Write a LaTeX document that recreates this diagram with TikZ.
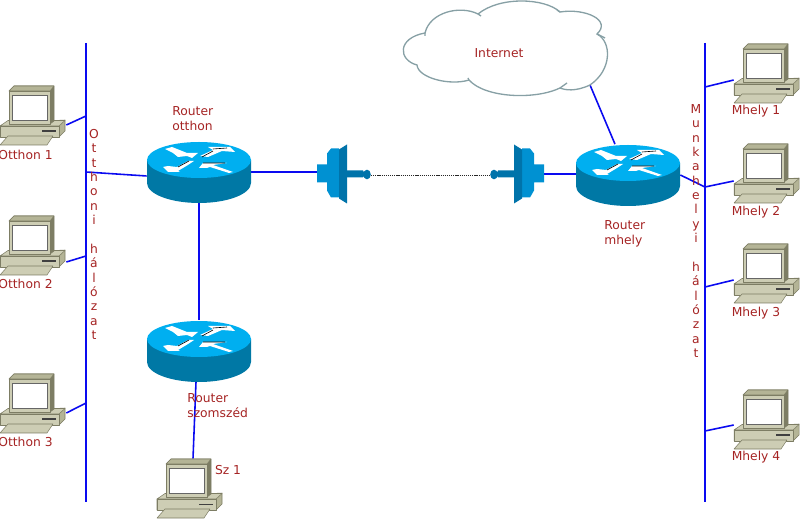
\documentclass[tikz,border=0pt]{standalone}
\usepackage{fontspec}
\setmainfont{DejaVu Sans}
\usetikzlibrary{calc}
\definecolor{netblue}{RGB}{10,10,240}
\definecolor{labelred}{RGB}{165,35,35}
\definecolor{pclight}{RGB}{205,205,180}
\definecolor{pcmid}{RGB}{180,180,150}
\definecolor{pcdark}{RGB}{125,125,100}
\definecolor{routertop}{RGB}{0,175,240}
\definecolor{routerside}{RGB}{0,120,165}
\definecolor{dishlight}{RGB}{0,145,210}
\definecolor{dishdark}{RGB}{0,115,170}
\definecolor{cloudline}{RGB}{135,160,165}
\tikzset{
  x=0.02cm,y=-0.02cm,
  netline/.style={draw=netblue,line width=0.9pt},
  netlabel/.style={text=labelred,font=\fontsize{7}{8.5}\selectfont,inner sep=0pt,align=left},
  busletters/.style={text=labelred,font=\fontsize{7}{8.18}\selectfont,inner sep=0pt,align=center},
  pcbox/.style={minimum width=1.32cm,minimum height=1.2cm,inner sep=0pt},
  routerbox/.style={minimum width=2.08cm,minimum height=1.22cm,inner sep=0pt},
  dishbox/.style={minimum width=0.2cm,minimum height=0.34cm,inner sep=0pt},
  pcpart/.style={draw=pcdark,line width=0.3pt,line join=round},
  pcico/.pic={
    % base
    \path[pcpart,fill=pcmid] (-27,37) -- (-33,40) -- (-33,51) -- (26,51) -- (32,45) -- (32,34) -- cycle;
    \path[pcpart,fill=pclight] (-33,40) -- (-25,34.5) -- (32,34.5) -- (26,40) -- cycle;
    \path[pcpart,fill=pclight] (-33,40) rectangle (26,51);
    \fill[black!75] (9,44.5) rectangle (23,46);
    % keyboard
    \path[pcpart,fill=pclight] (-25,50) -- (20,50) -- (14,59) -- (-33,59) -- cycle;
    % monitor
    \path[pcpart,fill=pcdark] (-24,5) -- (-19,0) -- (21,0) -- (21,35) -- (17,38) -- (17,5) -- cycle;
    \path[pcpart,fill=pcmid] (-24,5) -- (-19,0) -- (21,0) -- (17,5) -- cycle;
    \path[pcpart,fill=pclight] (-24,5) rectangle (17,38);
    \path[draw=black!60,line width=0.3pt,fill=white] (-20.5,9) rectangle (14,34.5);
  },
  routerico/.pic={
    \fill[routerside] (-52,-12) -- (-52,11) arc[start angle=180,end angle=0,x radius=52,y radius=20] -- (52,-12) -- cycle;
    \fill[routertop] (0,-12) ellipse[x radius=52,y radius=18];
    % arrows
    \fill[white] (-34,-23) -- (-27,-25) -- (-12,-19) -- (-1,-19) -- (-7,-14) -- (-12,-16) -- (-21,-15) -- (-26,-19) -- cycle;
    \fill[white] (1,-16) -- (14,-22) -- (9,-25) -- (31,-25) -- (36,-20) -- (23,-21) -- (9,-15) -- cycle;
    \fill[white] (-36,-5) -- (-31,-6) -- (-22,-5) -- (-11,-11) -- (-5,-11) -- (-11,-7) -- (-21,-1) -- (-19,0) -- (-31,0) -- cycle;
    \fill[white] (0,-4) -- (4,-9) -- (28,-9) -- (14,-7) -- (34,0) -- (30,1) -- (11,-5) -- (8,-4) -- cycle;
    \draw[black,line width=0.35pt] (3,-15) -- (14,-21) (14,-23) -- (28,-24) (-21,-5) -- (-10,-11) (4,-9) -- (26,-9);
  },
  dishico/.pic={
    \fill[dishlight] (-51,-9) -- (-41,-9) -- (-41,-20) -- (-37,-25) -- (-29,-25) -- (-29,24) -- (-37,24) -- (-41,17) -- (-41,9) -- (-51,9) -- cycle;
    \fill[dishdark] (-29,-24) -- (-21,-29) -- (-21,30) -- (-29,25) -- cycle;
    \fill[dishdark] (-21,-3) -- (-5,-3) -- (-3,1) -- (-5,4) -- (-21,4) -- cycle;
    \fill[dishdark] (-1,1) ellipse[x radius=3.8,y radius=4.8];
  },
}
\begin{document}
\begin{tikzpicture}
  \useasboundingbox (0,0) rectangle (800,519);
  % hosts
  \node[pcbox] (otthona) at (33,116) {};
  \node[pcbox] (otthonb) at (33,246) {};
  \node[pcbox] (otthonc) at (33,404) {};
  \node[pcbox] (szomszed) at (190,489) {};
  \node[pcbox] (mhelya) at (767,74) {};
  \node[pcbox] (mhelyb) at (767,174) {};
  \node[pcbox] (mhelyc) at (767,274) {};
  \node[pcbox] (mhelyd) at (767,420) {};
  % routers
  \node[routerbox] (routerotthon) at (199,172) {};
  \node[routerbox] (routerszomszed) at (199,351) {};
  \node[routerbox] (routermhely) at (628,175) {};
  % antennas
  \node[dishbox] (dishleft) at (322,172) {};
  \node[dishbox] (dishright) at (539,174) {};
  \coordinate (beamleft) at (371,175.7);
  \coordinate (beamright) at (490,175.7);
  % buses
  \coordinate (busotthontop) at (86,43);
  \coordinate (busotthonbot) at (86,502);
  \coordinate (busmhelytop) at (705,43);
  \coordinate (busmhelybot) at (705,502);
  \coordinate (tapoa) at (86,116);
  \coordinate (tapob) at (86,256);
  \coordinate (tapoc) at (86,403);
  \coordinate (taprouter) at (86,172);
  \coordinate (tapma) at (705,87);
  \coordinate (tapmb) at (705,187);
  \coordinate (tapmc) at (705,287);
  \coordinate (tapmd) at (705,431);
  \coordinate (cloudtail) at (590,85);
  % connectors
  \draw[netline] (busotthontop) -- (busotthonbot);
  \draw[netline] (busmhelytop) -- (busmhelybot);
  \draw[netline] ($(otthona.east)+(0,9)$) -- (tapoa);
  \draw[netline] ($(otthonb.east)+(0,16)$) -- (tapob);
  \draw[netline] ($(otthonc.east)+(0,9)$) -- (tapoc);
  \draw[netline] ($(routerotthon.west)+(0,4)$) -- (taprouter);
  \draw[netline] (routerotthon.east) -- (dishleft.west);
  \draw[netline] (dishright.east) -- ($(routermhely.west)+(0,-1)$);
  \draw[netline] (routerotthon.south) -- (routerszomszed.north);
  \draw[netline] ($(routerszomszed.south)+(-3,0)$) -- ($(szomszed.north)+(3,0)$);
  \draw[netline] (cloudtail) -- ($(routermhely.north)+(-13,0)$);
  \draw[netline] (routermhely.east) -- (tapmb);
  \draw[netline] (tapma) -- ($(mhelya.west)+(0,6)$);
  \draw[netline] (tapmb) -- ($(mhelyb.west)+(0,7)$);
  \draw[netline] (tapmc) -- ($(mhelyc.west)+(0,6)$);
  \draw[netline] (tapmd) -- ($(mhelyd.west)+(0,5)$);
  \draw[black!85,line width=0.8pt,dash pattern=on 0.7pt off 0.5pt] (beamleft) -- (beamright);
  % icons
  \foreach \n in {otthona,otthonb,otthonc,szomszed,mhelya,mhelyb,mhelyc,mhelyd}
    \pic at ($(\n.center)+(0,-30)$) {pcico};
  \foreach \n in {routerotthon,routerszomszed,routermhely}
    \pic at (\n.center) {routerico};
  \pic at (368,173.5) {dishico};
  \pic[xscale=-1] at (493,173.5) {dishico};
  % cloud
  \draw[draw=cloudline,line width=0.75pt,fill=white]
    (425,33) .. controls (430,12) and (460,5) .. (478,14)
    .. controls (500,-4) and (545,-2) .. (560,12)
    .. controls (585,8) and (612,20) .. (597,34)
    .. controls (612,42) and (612,70) .. (590,85)
    .. controls (575,92) and (565,90) .. (560,88)
    .. controls (535,100) and (485,98) .. (469,80)
    .. controls (450,86) and (418,78) .. (417,65)
    .. controls (398,60) and (397,38) .. (425,33) -- cycle;
  \draw[draw=cloudline,line width=0.75pt]
    (478,14) -- (481,16) (560,12) -- (557,10) (597,34) -- (605,38)
    (560,88) -- (567,83) (469,80) -- (468,78) (425,33) -- (425,36);
  % labels
  \node[netlabel] (lblinternet) at (499,53) {Internet};
  \node[netlabel] at (25.5,155) {Otthon 1};
  \node[netlabel] at (25.5,284) {Otthon 2};
  \node[netlabel] at (25.5,442) {Otthon 3};
  \node[netlabel] at (228,470) {Sz 1};
  \node[netlabel] at (756,111) {Mhely 1};
  \node[netlabel] at (756,212) {Mhely 2};
  \node[netlabel] at (756,313) {Mhely 3};
  \node[netlabel] at (756,457) {Mhely 4};
  \node[netlabel,anchor=west] at (172,119) {Router\\otthon};
  \node[netlabel,anchor=west] at (187,406) {Router\\szomszéd};
  \node[netlabel,anchor=west] at (604,234) {Router\\mhely};
  \node[busletters,anchor=north] at (94,129) {O\\t\\t\\h\\o\\n\\i\\ \\h\\á\\l\\ó\\z\\a\\t};
  \node[busletters,anchor=north] at (696,104) {M\\u\\n\\k\\a\\h\\e\\l\\y\\i\\ \\h\\á\\l\\ó\\z\\a\\t};
\end{tikzpicture}
\end{document}
